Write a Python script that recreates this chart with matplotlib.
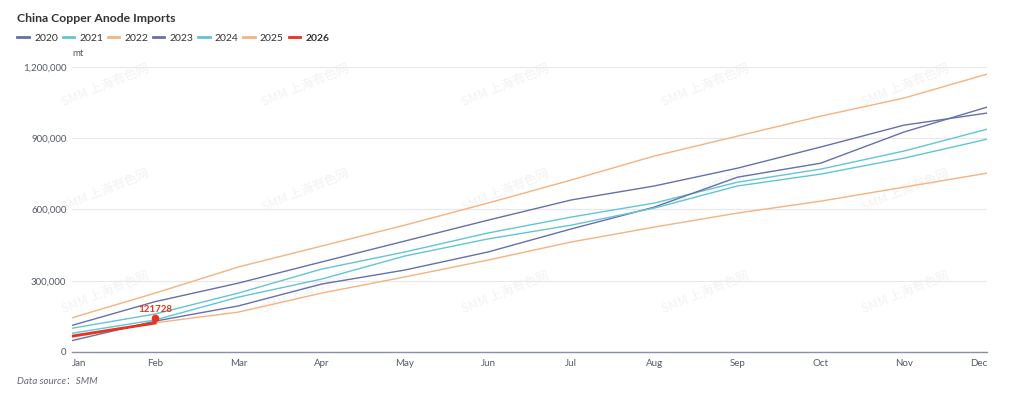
import matplotlib.pyplot as plt
from matplotlib.ticker import FuncFormatter

plt.rcParams['font.family'] = ['Lato', 'Noto Sans CJK SC', 'DejaVu Sans']

# Monthly cumulative imports (mt)
months = ['Jan', 'Feb', 'Mar', 'Apr', 'May', 'Jun', 'Jul', 'Aug', 'Sep', 'Oct', 'Nov', 'Dec']

y2020 = [112000, 212000, 290000, 379000, 467000, 555000, 640000, 699000, 774000, 863000, 955000, 1006000]
y2021 = [100000, 160000, 248000, 349000, 421000, 501000, 568000, 627000, 715000, 770000, 846000, 938000]
y2022 = [62000, 123000, 168000, 248000, 316000, 387000, 463000, 526000, 585000, 635000, 694000, 753000]
y2023 = [48000, 130000, 194000, 286000, 345000, 421000, 518000, 610000, 736000, 795000, 926000, 1031000]
y2024 = [79000, 135000, 231000, 307000, 404000, 476000, 534000, 606000, 699000, 749000, 816000, 896000]
y2025 = [144000, 248000, 358000, 446000, 534000, 627000, 724000, 825000, 909000, 993000, 1069000, 1170000]
y2026 = [67000, 121728]

series = {
    '2020': (y2020, '#6670AC'),
    '2021': (y2021, '#62C5D6'),
    '2022': (y2022, '#F6B27F'),
    '2023': (y2023, '#6670AC'),
    '2024': (y2024, '#62C5D6'),
    '2025': (y2025, '#F6B27F'),
}

fig = plt.figure(figsize=(10.24, 3.99), dpi=100)
ax = fig.add_axes([0.0703, 0.1178, 0.8936, 0.7143])

# faint watermarks, kept under the lines
for wx in [105, 305, 505, 705, 905]:
    for wy in [85, 190, 292]:
        ax.text(wx / 1024, 1 - wy / 399, 'SMM 上海有色网', rotation=22, fontsize=9,
                color='#F2F2F2', ha='center', va='center', zorder=0.5,
                transform=fig.transFigure, clip_on=False,
                family=['Noto Sans CJK SC', 'DejaVu Sans'])

x = list(range(len(months)))
for name, (vals, col) in series.items():
    ax.plot(x, vals, color=col, lw=1.0, label=name, zorder=2)

ax.plot(x[:len(y2026)], y2026, color='#E8341C', lw=2.0, label='2026', zorder=3)
ax.plot(1, y2026[1] + 20000, marker='o', ms=4.5, color='#E8341C', zorder=4)
ax.annotate('121728', (1, y2026[1]), xytext=(0, 6.5), textcoords='offset points',
            ha='center', va='bottom', fontsize=7, color='#E8341C', fontweight='bold')

ax.set_xlim(0, 11)
ax.set_ylim(0, 1200000)
ax.set_yticks([0, 300000, 600000, 900000, 1200000])
ax.yaxis.set_major_formatter(FuncFormatter(lambda v, p: f'{int(v):,}'))
ax.set_xticks(x)
ax.set_xticklabels(months)
ax.tick_params(axis='both', length=0, labelsize=7, colors='#555a66')
ax.tick_params(axis='x', pad=5)
ax.tick_params(axis='y', pad=4)
ax.get_xticklabels()[-1].set_ha('right')
ax.get_xticklabels()[0].set_ha('left')

ax.grid(axis='y', color='#E6E8EE', lw=0.8)
ax.set_axisbelow(True)
for s in ['top', 'right', 'left']:
    ax.spines[s].set_visible(False)
ax.spines['bottom'].set_color('#8A90A6')
ax.spines['bottom'].set_linewidth(1.0)

fig.text(0.017, 1 - 18 / 399, 'China Copper Anode Imports', fontsize=8.8,
         fontweight='bold', color='#333333', va='center')
fig.text(0.0703, 1 - 53 / 399, 'mt', fontsize=7, color='#555a66', va='center')
fig.text(0.017, 1 - 381 / 399, 'Data source：SMM', fontsize=7, style='italic',
         color='#666a77', va='center')

leg = fig.legend(loc='center left', bbox_to_anchor=(0.017, 1 - 38 / 399), ncol=7,
                 frameon=False, fontsize=7.5, handlelength=1.1, handletextpad=0.5,
                 columnspacing=0.45, borderaxespad=0, borderpad=0)
for line in leg.get_lines():
    line.set_linewidth(2)
for t in leg.get_texts():
    t.set_color('#333333')
leg.get_texts()[-1].set_fontweight('bold')

plt.savefig('out.png', dpi=100)
